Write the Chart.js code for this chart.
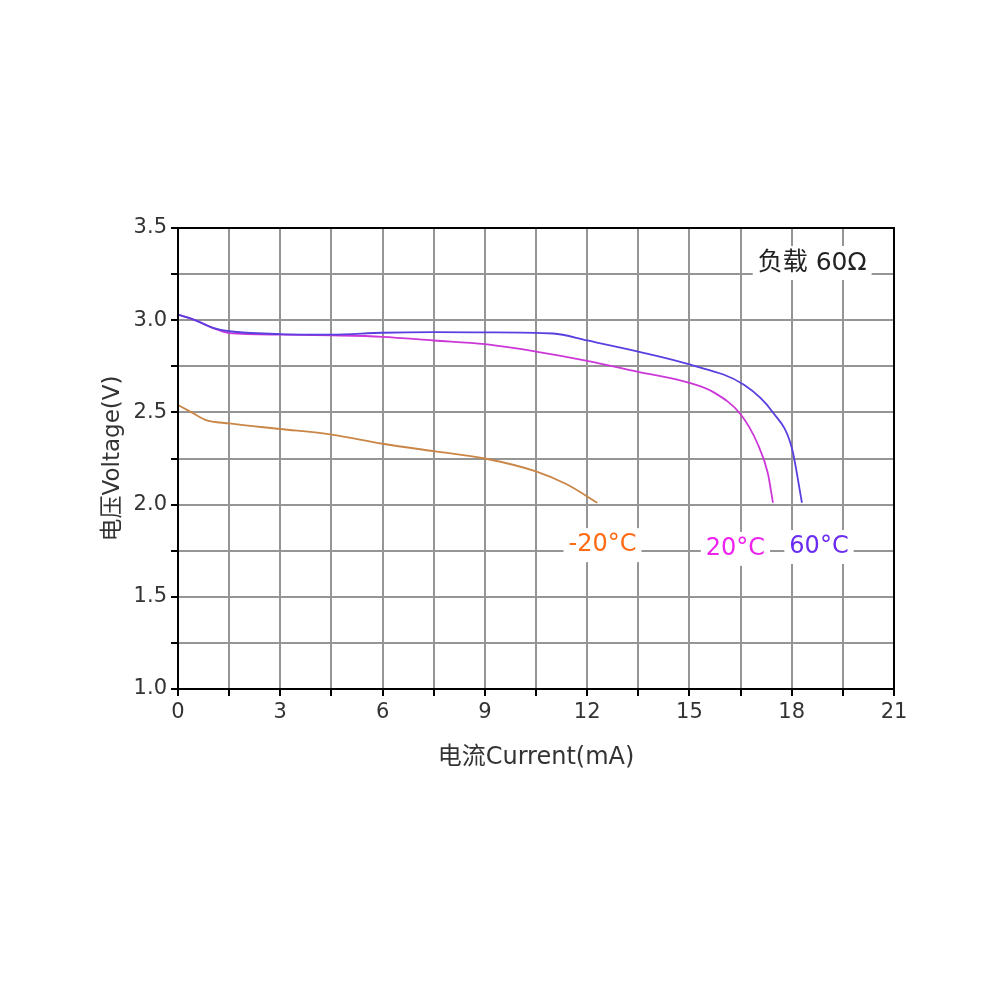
<!DOCTYPE html>
<html>
<head>
    <title>电压-电流曲线</title>
    <script src="https://cdn.jsdelivr.net/npm/chart.js"></script>
    <style>
        body { margin: 0; background: #fff; }
    </style>
</head>
<body>
    <canvas id="myChart" width="1000" height="1000"></canvas>

    <script>
        // 60°C 曲线
        const cur60 = [0, 0.5, 1, 1.5, 3, 4.5, 6, 7.5, 9, 11, 12, 13.5, 15, 16.6, 17.45, 18.0, 18.3];
        const volt60 = [3.03, 3.0, 2.96, 2.94, 2.925, 2.922, 2.932, 2.935, 2.934, 2.928, 2.89, 2.83, 2.76, 2.65, 2.50, 2.31, 2.01];
        // 20°C 曲线
        const cur20 = [0, 0.5, 1, 1.5, 3, 4.5, 6, 7.5, 9, 10.5, 12, 13.5, 15, 15.7, 16.5, 17.0, 17.3, 17.45];
        const volt20 = [3.03, 3.0, 2.96, 2.93, 2.922, 2.918, 2.91, 2.89, 2.87, 2.83, 2.78, 2.72, 2.66, 2.61, 2.49, 2.33, 2.17, 2.01];
        // -20°C 曲线
        const curM20 = [0, 0.4, 0.8, 1.5, 3, 4.5, 6, 7.5, 9, 10.5, 11.4, 12.3];
        const voltM20 = [2.54, 2.50, 2.46, 2.44, 2.41, 2.38, 2.33, 2.29, 2.25, 2.18, 2.11, 2.01];

        // 坐标轴刻度
        const xTicks = [0, 3, 6, 9, 12, 15, 18, 21];
        const yTicks = [1.0, 1.5, 2.0, 2.5, 3.0, 3.5];

        // 图中的文字标注 (数据坐标)
        const notes = [
            { text: '-20°C', x: 12.45, y: 1.78, color: '#ff6a13', size: 24 },
            { text: '20°C', x: 16.35, y: 1.76, color: '#ee22ee', size: 24 },
            { text: '60°C', x: 18.8, y: 1.77, color: '#6a2cf0', size: 24 },
            { text: '负载 60Ω', x: 18.6, y: 3.31, color: '#222', size: 25 }
        ];

        const FONT = '"DejaVu Sans", "Noto Sans CJK SC", sans-serif';

        const toPoints = (xs, ys) => xs.map((x, i) => ({ x: x, y: ys[i] }));

        // 外框 + 标注
        const framePlugin = {
            id: 'frame',
            afterDraw(chart) {
                const ctx = chart.ctx;
                const a = chart.chartArea;
                ctx.save();
                ctx.strokeStyle = '#000';
                ctx.lineWidth = 2;
                ctx.strokeRect(a.left, a.top, a.right - a.left, a.bottom - a.top);

                ctx.textAlign = 'center';
                ctx.textBaseline = 'middle';
                notes.forEach(n => {
                    ctx.font = n.size + 'px ' + FONT;
                    const px = chart.scales.x.getPixelForValue(n.x);
                    const py = chart.scales.y.getPixelForValue(n.y);
                    const w = ctx.measureText(n.text).width + 10;
                    ctx.fillStyle = '#fff';
                    ctx.fillRect(px - w / 2, py - 17, w, 34);
                    ctx.fillStyle = n.color;
                    ctx.fillText(n.text, px, py);
                });
                ctx.restore();
            }
        };

        const ctx = document.getElementById('myChart').getContext('2d');
        const myChart = new Chart(ctx, {
            type: 'line',
            data: {
                datasets: [
                    {
                        label: '60°C',
                        data: toPoints(cur60, volt60),
                        borderColor: '#5a3fe0',
                        borderWidth: 1.8,
                        pointRadius: 0,
                        cubicInterpolationMode: 'monotone'
                    },
                    {
                        label: '20°C',
                        data: toPoints(cur20, volt20),
                        borderColor: '#cc38d8',
                        borderWidth: 1.8,
                        pointRadius: 0,
                        cubicInterpolationMode: 'monotone'
                    },
                    {
                        label: '-20°C',
                        data: toPoints(curM20, voltM20),
                        borderColor: '#c98647',
                        borderWidth: 1.8,
                        pointRadius: 0,
                        cubicInterpolationMode: 'monotone'
                    }
                ]
            },
            options: {
                responsive: false,
                animation: false,
                layout: {
                    padding: { left: 95, top: 228, right: 106, bottom: 224 }
                },
                plugins: {
                    legend: { display: false },
                    tooltip: { enabled: false }
                },
                scales: {
                    x: {
                        type: 'linear',
                        min: 0,
                        max: 21,
                        afterFit(scale) { scale.height = 87; },
                        afterBuildTicks(scale) {
                            const t = [];
                            for (let v = 0; v <= 21; v += 1.5) t.push({ value: v });
                            scale.ticks = t;
                        },
                        ticks: {
                            autoSkip: false,
                            maxRotation: 0,
                            color: '#333',
                            font: { family: FONT, size: 21 },
                            padding: 4,
                            callback: v => xTicks.includes(v) ? String(v) : ''
                        },
                        grid: {
                            color: '#959595',
                            lineWidth: 2,
                            tickLength: 7,
                            tickColor: '#000'
                        },
                        border: { color: '#000', width: 2 },
                        title: {
                            display: true,
                            text: '电流Current(mA)',
                            color: '#333',
                            font: { family: FONT, size: 24 },
                            padding: { top: 4, bottom: 4 }
                        }
                    },
                    y: {
                        min: 1,
                        max: 3.5,
                        afterFit(scale) { scale.width = 83; },
                        afterBuildTicks(scale) {
                            const t = [];
                            for (let i = 0; i <= 10; i++) t.push({ value: 1 + i * 0.25 });
                            scale.ticks = t;
                        },
                        ticks: {
                            autoSkip: false,
                            color: '#333',
                            font: { family: FONT, size: 21 },
                            padding: 4,
                            callback: v => yTicks.some(t => Math.abs(t - v) < 1e-6) ? v.toFixed(1) : ''
                        },
                        grid: {
                            color: '#959595',
                            lineWidth: 2,
                            tickLength: 7,
                            tickColor: '#000'
                        },
                        border: { color: '#000', width: 2 },
                        title: {
                            display: true,
                            text: '电压Voltage(V)',
                            color: '#333',
                            font: { family: FONT, size: 23 },
                            padding: { top: 4, bottom: 4 }
                        }
                    }
                }
            },
            plugins: [framePlugin]
        });
    </script>
</body>
</html>
